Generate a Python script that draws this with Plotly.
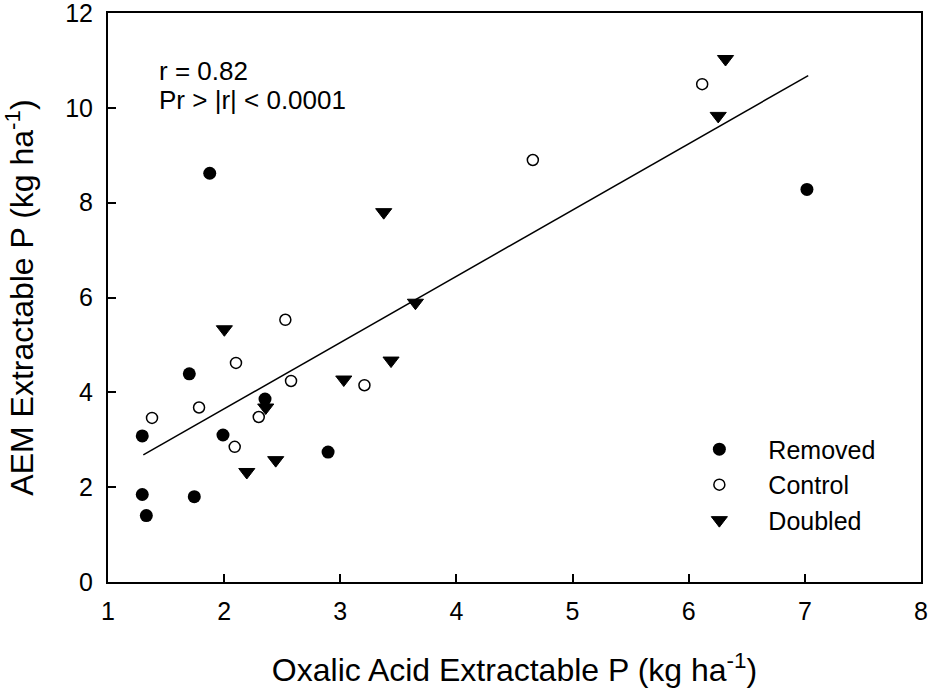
import plotly.graph_objects as go

# Oxalic acid extractable P (x) vs AEM extractable P (y), kg ha-1
removed_x = [1.295, 1.295, 1.33, 1.743, 1.70, 1.99, 2.352, 2.895, 1.876, 7.018]
removed_y = [3.08, 1.845, 1.40, 1.80, 4.39, 3.10, 3.857, 2.74, 8.62, 8.28]

control_x = [1.379, 1.784, 2.091, 2.102, 2.298, 2.527, 2.576, 3.208, 4.658, 6.116]
control_y = [3.46, 3.68, 2.85, 4.62, 3.48, 5.53, 4.24, 4.15, 8.90, 10.50]

doubled_x = [2.002, 2.195, 2.444, 2.358, 3.03, 3.437, 3.647, 3.374, 6.317, 6.254]
doubled_y = [5.33, 2.32, 2.57, 3.68, 4.27, 4.67, 5.89, 7.80, 11.03, 9.83]

# Fitted regression line end points
fit_x = [1.304, 7.029]
fit_y = [2.68, 10.68]

x_ticks = [1, 2, 3, 4, 5, 6, 7, 8]
y_ticks = [0, 2, 4, 6, 8, 10, 12]

stats_lines = ["r = 0.82", "Pr > |r| < 0.0001"]

FONT = "Liberation Sans, Arial, Helvetica, sans-serif"

fig = go.Figure()

fig.add_trace(go.Scatter(
    x=fit_x, y=fit_y, mode="lines",
    line=dict(color="black", width=1.5),
    showlegend=False, hoverinfo="skip",
))

fig.add_trace(go.Scatter(
    x=removed_x, y=removed_y, mode="markers", name="Removed",
    legendgroup="a",
    marker=dict(symbol="circle", size=13, color="black",
                line=dict(color="black", width=0)),
))
fig.add_trace(go.Scatter(
    x=control_x, y=control_y, mode="markers", name="Control",
    legendgroup="b",
    marker=dict(symbol="circle-open", size=11, color="black",
                line=dict(color="black", width=1.5)),
))
fig.add_trace(go.Scatter(
    x=doubled_x, y=doubled_y, mode="markers", name="Doubled",
    legendgroup="c",
    marker=dict(symbol="triangle-down", size=14, color="black",
                line=dict(color="black", width=1)),
))

fig.add_annotation(x=1.422, y=10.78, xref="x", yref="y", text=stats_lines[0],
                   showarrow=False, xanchor="left", yanchor="middle",
                   font=dict(family=FONT, size=26, color="black"))
fig.add_annotation(x=1.422, y=10.17, xref="x", yref="y", text=stats_lines[1],
                   showarrow=False, xanchor="left", yanchor="middle",
                   font=dict(family=FONT, size=26, color="black"))

fig.update_layout(
    width=931, height=692,
    margin=dict(l=108, r=10, t=13, b=110, autoexpand=False),
    paper_bgcolor="white", plot_bgcolor="white",
    font=dict(family=FONT, size=24, color="black"),
    legend=dict(
        x=0.6917, y=0.2735, xanchor="left", yanchor="top",
        bgcolor="rgba(0,0,0,0)", borderwidth=0,
        font=dict(family=FONT, size=25, color="black"),
        itemwidth=88, tracegroupgap=0,
    ),
    xaxis=dict(
        range=[1, 8.0001], tickmode="array", tickvals=x_ticks,
        showgrid=False, zeroline=False, automargin=False,
        showline=True, linecolor="black", linewidth=2, mirror=True,
        ticks="inside", ticklen=8, tickwidth=1.5, tickcolor="black",
        tickfont=dict(family=FONT, size=25, color="black"),
        ticklabelstandoff=6, ticklabeloverflow="allow",
        title=dict(text="Oxalic Acid Extractable P (kg ha<sup>-1</sup>)",
                   font=dict(family=FONT, size=32, color="black"),
                   standoff=35),
    ),
    yaxis=dict(
        range=[0, 12.0001], tickmode="array", tickvals=y_ticks,
        showgrid=False, zeroline=False, automargin=False,
        showline=True, linecolor="black", linewidth=2, mirror=True,
        ticks="inside", ticklen=8, tickwidth=1.5, tickcolor="black",
        tickfont=dict(family=FONT, size=25, color="black"),
        ticklabelstandoff=8, ticklabeloverflow="allow",
        title=dict(text="AEM Extractable P (kg ha<sup>-1</sup>)",
                   font=dict(family=FONT, size=32, color="black"),
                   standoff=22),
    ),
)

fig.write_html("out.html")
